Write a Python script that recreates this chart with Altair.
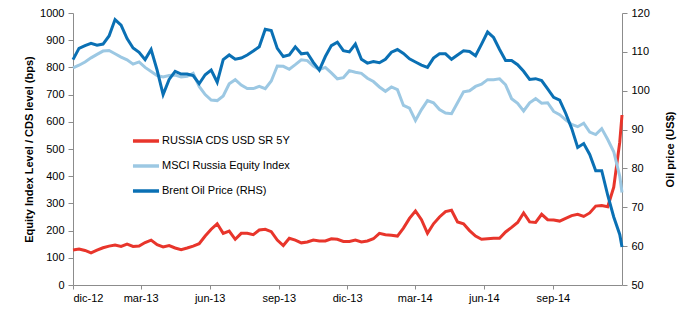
import altair as alt
import pandas as pd

# x-axis sample dates: every 8 days from 15 Dec 2012, last point 16 Dec 2014
dates = [d.strftime("%Y-%m-%d") for d in pd.date_range("2012-12-15", periods=92, freq="8D")] + ["2014-12-16"]

cds = [129, 132, 127, 118, 128, 137, 143, 147, 142, 150, 142, 143, 156, 165, 148, 140, 145, 136, 130, 136,
       143, 152, 180, 205, 225, 190, 198, 168, 190, 190, 185, 202, 205, 196, 165, 145, 172, 165, 155, 158,
       165, 162, 162, 170, 168, 160, 160, 165, 158, 162, 170, 190, 185, 183, 180, 209, 245, 272, 240, 190,
       225, 250, 270, 275, 232, 225, 200, 180, 168, 170, 172, 172, 195, 212, 230, 265, 232, 230, 260, 240,
       239, 235, 245, 255, 260, 252, 265, 290, 292, 288, 360, 525, 625]

msci = [798, 808, 820, 835, 848, 860, 862, 850, 838, 828, 812, 820, 800, 785, 770, 765, 770, 772, 765, 767,
        778, 730, 700, 680, 678, 695, 740, 755, 735, 722, 722, 730, 722, 750, 805, 804, 793, 810, 828, 825,
        805, 792, 800, 780, 758, 762, 788, 782, 778, 760, 748, 728, 712, 728, 718, 660, 650, 605, 645, 678,
        670, 645, 632, 630, 670, 710, 714, 730, 738, 755, 755, 758, 736, 685, 668, 640, 670, 685, 668, 670,
        638, 626, 607, 590, 582, 595, 562, 553, 575, 535, 490, 400, 340]

brent = [108.0, 110.9, 111.6, 112.2, 111.7, 112.0, 114.1, 118.3, 116.9, 113.4, 111.0, 109.9, 108.0, 110.6,
         105.3, 99.0, 102.9, 105.0, 104.3, 104.3, 103.9, 101.8, 104.1, 105.3, 102.2, 108.0, 109.2, 108.1,
         108.4, 109.2, 110.2, 111.3, 115.8, 115.5, 110.9, 108.8, 109.2, 111.3, 109.5, 109.7, 107.3, 105.3,
         108.8, 111.6, 112.5, 110.3, 110.0, 112.0, 108.1, 107.1, 107.5, 107.2, 108.1, 109.9, 110.6, 109.6,
         108.2, 107.4, 106.6, 106.0, 108.4, 109.5, 109.5, 108.1, 109.2, 110.3, 110.1, 109.0, 112.0, 115.1,
         113.7, 110.6, 107.8, 107.8, 106.7, 105.0, 102.9, 103.1, 102.6, 100.5, 98.3, 97.6, 94.2, 90.3,
         85.4, 86.4, 83.6, 79.4, 79.4, 73.1, 67.5, 63.0, 59.8]

series_names = ["RUSSIA CDS USD SR 5Y", "MSCI Russia Equity Index", "Brent Oil Price (RHS)"]
series_colors = ["#E8352B", "#9CC8E3", "#0A70B4"]

left_ticks = [0, 100, 200, 300, 400, 500, 600, 700, 800, 900, 1000]
right_ticks = [50, 60, 70, 80, 90, 100, 110, 120]
x_tick_dates = [(2012, 12), (2013, 3), (2013, 6), (2013, 9), (2013, 12), (2014, 3), (2014, 6), (2014, 9)]

FONT = "Liberation Sans"

rows = []
for d, c, m, b in zip(dates, cds, msci, brent):
    rows.append({"date": d, "value": c, "series": series_names[0]})
    rows.append({"date": d, "value": m, "series": series_names[1]})
    rows.append({"date": d, "value": b, "series": series_names[2]})
df = pd.DataFrame(rows)

label_expr = ("['ene','feb','mar','abr','may','jun','jul','ago','sep','oct','nov','dic'][utcmonth(datum.value)]"
              " + '-' + utcFormat(datum.value, '%y')")

x_enc = alt.X(
    "date:T",
    scale=alt.Scale(type="utc", domain=[alt.DateTime(year=2012, month=12, date=15, utc=True),
                                        alt.DateTime(year=2014, month=12, date=16, utc=True)]),
    axis=alt.Axis(
        title=None,
        values=[alt.DateTime(year=y, month=mo, date=15, utc=True) for y, mo in x_tick_dates],
        labelExpr=label_expr,
        grid=False,
        tickSize=4,
        labelPadding=3,
        labelFontSize=11,
        labelFont=FONT,
        labelColor="#000000",
        domainColor="#8C8C8C",
        tickColor="#8C8C8C",
    ),
)

color_enc = alt.Color(
    "series:N",
    scale=alt.Scale(domain=series_names, range=series_colors),
    legend=alt.Legend(
        title=None,
        orient="none",
        legendX=58,
        legendY=113,
        symbolType="stroke",
        symbolSize=680,
        symbolStrokeWidth=3.5,
        labelFont=FONT,
        labelFontSize=11,
        labelColor="#000000",
        labelOffset=1,
        rowPadding=3,
    ),
)

left = alt.Chart(df).transform_filter(
    alt.FieldOneOfPredicate(field="series", oneOf=series_names[:2])
).mark_line(strokeWidth=3).encode(
    x=x_enc,
    y=alt.Y(
        "value:Q",
        scale=alt.Scale(domain=[0, 1000], nice=False),
        axis=alt.Axis(
            title="Equity Index Level / CDS level (bps)",
            values=left_ticks,
            format="d",
            grid=False,
            tickSize=5,
            labelPadding=4,
            labelFontSize=11,
            labelFont=FONT,
            labelColor="#000000",
            titleFont=FONT,
            titleFontSize=11,
            titleFontWeight="bold",
            titleColor="#000000",
            titlePadding=5,
            domainColor="#8C8C8C",
            tickColor="#8C8C8C",
        ),
    ),
    color=color_enc,
    order=alt.Order("date:T"),
)

right = alt.Chart(df).transform_filter(
    alt.FieldEqualPredicate(field="series", equal=series_names[2])
).mark_line(strokeWidth=3).encode(
    x=x_enc,
    y=alt.Y(
        "value:Q",
        scale=alt.Scale(domain=[50, 120], nice=False),
        axis=alt.Axis(
            title="Oil price (US$)",
            orient="right",
            values=right_ticks,
            format="d",
            grid=False,
            tickSize=5,
            labelPadding=4,
            labelFontSize=11,
            labelFont=FONT,
            labelColor="#000000",
            titleFont=FONT,
            titleFontSize=11,
            titleFontWeight="bold",
            titleColor="#000000",
            titleAngle=270,
            titlePadding=26,
            domainColor="#8C8C8C",
            tickColor="#8C8C8C",
        ),
    ),
    color=color_enc,
    order=alt.Order("date:T"),
)

chart = alt.layer(left, right).resolve_scale(y="independent").properties(
    width=549,
    height=272,
    autosize=alt.AutoSizeParams(type="none"),
    padding={"left": 73, "top": 13, "right": 71, "bottom": 39},
    background="#FFFFFF",
).configure_view(stroke=None)

chart.save("out.html", embed_options={"renderer": "svg", "actions": False})
